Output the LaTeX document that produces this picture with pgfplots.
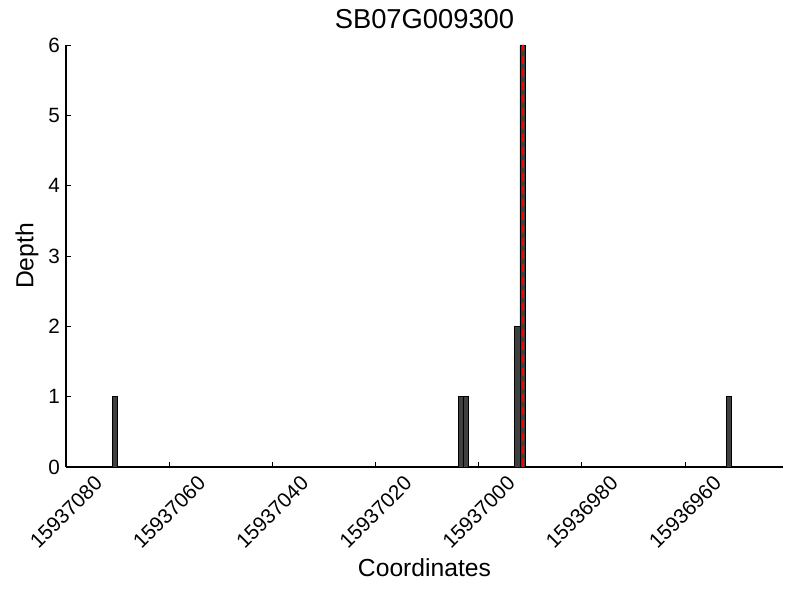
\documentclass[border=0pt]{standalone}
\usepackage{pgfplots}
\pgfplotsset{compat=1.18}
\usepackage{fontspec}
\setmainfont{Liberation Sans}
\definecolor{barfill}{HTML}{404040}

% positions are stored as offsets from 15937000 (TeX floats are too coarse for the full numbers)
\begin{document}
\begin{tikzpicture}
\path[use as bounding box] (0,0) rectangle (600pt,450pt);
\begin{axis}[
    at={(49.5pt,99.75pt)}, anchor=south west,
    scale only axis,
    width=537.75pt, height=316.5pt,
    x dir=reverse,
    xmin=-59, xmax=80,
    ymin=0, ymax=6,
    axis lines=left,
    axis line style={-, line width=0.8pt},
    tick align=inside,
    major tick length=3.75pt,
    tick style={black, line width=0.6pt},
    xtick={80,60,40,20,0,-20,-40},
    xticklabels={15937080,15937060,15937040,15937020,15937000,15936980,15936960},
    ytick={0,1,2,3,4,5,6},
    /pgf/number format/assume math mode=true,
    tick label style={font=\fontsize{15.5}{18}\selectfont},
    xticklabel style={yshift=-34pt, rotate=45, anchor=center},
    yticklabel style={xshift=-1pt},
    title={SB07G009300},
    title style={at={(axis description cs:0.5,1)}, anchor=base, yshift=6pt,
                 font=\fontsize{20.5}{24}\selectfont},
    xlabel={Coordinates},
    ylabel={Depth},
    every axis x label/.style={at={(axis description cs:0.5,0)}, anchor=base,
                 yshift=-81.75pt, font=\fontsize{18.5}{22}\selectfont},
    every axis y label/.style={at={(axis description cs:0,0.5)}, xshift=-29.25pt,
                 rotate=90, anchor=center, font=\fontsize{18.5}{22}\selectfont},
    clip=false,
]
\addplot[ybar, bar width=1, bar shift=0, fill=barfill, draw=black, line width=0.6pt]
coordinates {
    (70.5,1)
    (3.5,1)
    (2.5,1)
    (-7.5,2)
    (-8.5,6)
    (-48.5,1)
};
\addplot[red, line width=1.5pt, dash pattern=on 6pt off 3.75pt]
coordinates {(-8.5,0) (-8.5,6)};
\end{axis}
\end{tikzpicture}
\end{document}
